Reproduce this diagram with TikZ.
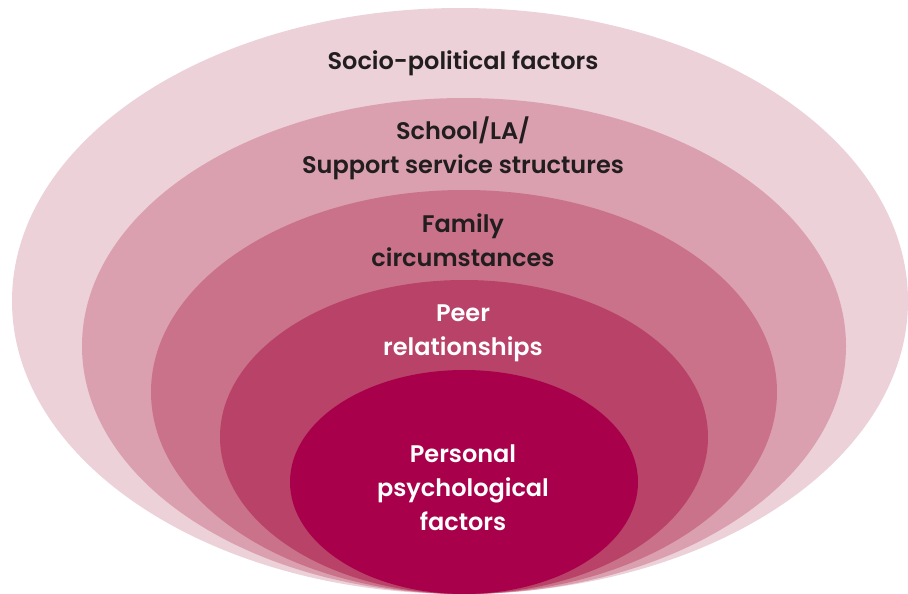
\documentclass[tikz,border=0pt]{standalone}
\usepackage{fontspec}
\setmainfont{Poppins}[BoldFont={Poppins SemiBold}]
\usepackage{tikz}
\definecolor{ringA}{RGB}{237,209,217}
\definecolor{ringB}{RGB}{219,160,175}
\definecolor{ringC}{RGB}{202,114,138}
\definecolor{ringD}{RGB}{185,66,104}
\definecolor{ringE}{RGB}{168,0,74}
\definecolor{inkdark}{RGB}{34,30,32}
\tikzset{
  label/.style={align=center,font=\fontsize{24}{34}\selectfont\bfseries,inner sep=0pt},
  darklabel/.style={label,text=inkdark},
  lightlabel/.style={label,text=white}
}

\begin{document}
\begin{tikzpicture}[x=1pt,y=-1pt]
      \useasboundingbox (0,0) rectangle (908,594);

      % rings, outermost first, all touching at the bottom
      \fill[ringA] (460,301) ellipse [x radius=448pt, y radius=293pt];
      \fill[ringB] (464,346) ellipse [x radius=382pt, y radius=248pt];
      \fill[ringC] (464,392) ellipse [x radius=313pt, y radius=202pt];
      \fill[ringD] (464,437) ellipse [x radius=244pt, y radius=157pt];
      \fill[ringE] (464,482) ellipse [x radius=174pt, y radius=112pt];

      \node[darklabel] (socio) at (463,63) {Socio-political factors};
      \node[darklabel] (school) at (463,148.5) {School/LA/\\Support service structures};
      \node[darklabel] (family) at (463,240.5) {Family\\circumstances};
      \node[lightlabel] (peer) at (463,333.5) {Peer\\relationships};
      \node[lightlabel] (personal) at (463,488) {Personal\\psychological\\factors};
    \end{tikzpicture}
\end{document}
